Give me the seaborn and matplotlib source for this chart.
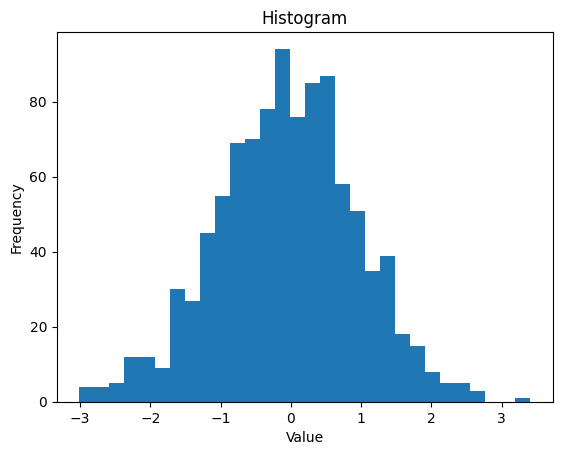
import numpy as np
import pandas as pd
import matplotlib
matplotlib.use('Agg')
import matplotlib.pyplot as plt
import seaborn as sns

# bin counts (30 bins, 1000 samples)
counts = [4, 4, 5, 12, 12, 9, 30, 27, 45, 55, 69, 70, 78, 94, 76,
          85, 87, 58, 51, 35, 39, 18, 15, 8, 5, 5, 3, 0, 0, 1]
lo, hi = -3.01, 3.41

edges = np.linspace(lo, hi, len(counts) + 1)
centers = (edges[:-1] + edges[1:]) / 2
df = pd.DataFrame({'value': centers, 'count': counts})

fig = plt.figure(figsize=(5.62, 4.55), dpi=100)
ax = fig.add_axes([0.101, 0.1165, 0.883, 0.8135])
sns.histplot(data=df, x='value', weights='count', bins=list(edges),
             color='#1f77b4', alpha=1, linewidth=0, ax=ax)
ax.set_title('Histogram')
ax.set_xlabel('Value')
ax.set_ylabel('Frequency')
fig.savefig('out.png', dpi=100)
